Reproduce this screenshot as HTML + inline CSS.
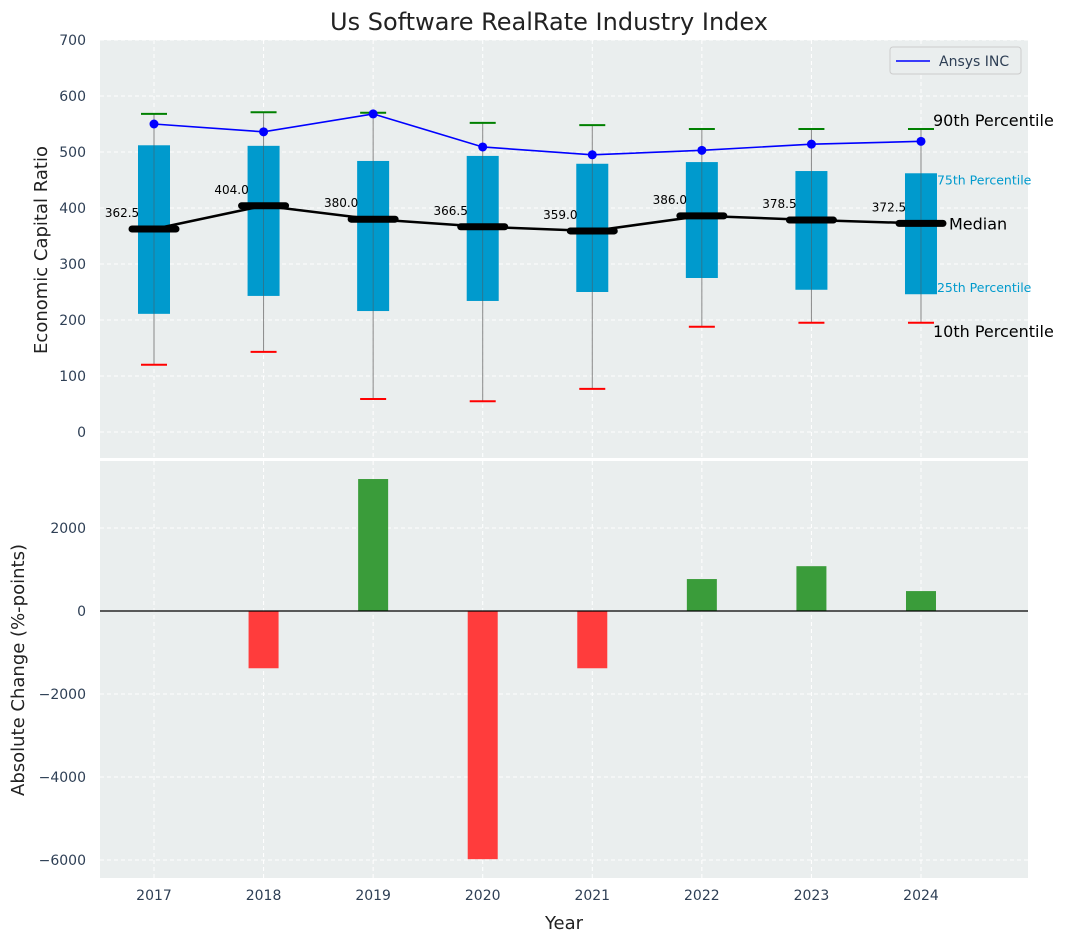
<!DOCTYPE html>
<html><head><meta charset="utf-8"><style>
body{margin:0;background:#fff;font-family:"Liberation Sans","DejaVu Sans",sans-serif;}
svg text{font-family:"DejaVu Sans","Liberation Sans",sans-serif;}
</style></head><body>
<svg id="c" width="1067" height="942"></svg>
<script>
const years=[2017,2018,2019,2020,2021,2022,2023,2024];
const p10=[120,143,59,55,77,188,195,195];
const q1=[211,243,216,234,250,275,254,246];
const medians=[362.5,404.0,380.0,366.5,359.0,386.0,378.5,372.5];
const q3=[512,511,484,493,479,482,466,462];
const p90=[568,571,570,552,548,541,541,541];
const ansys=[550,536,568,509,495,503,514,519];
const changes=[0,-1380,3180,-5980,-1380,770,1080,480];
const topTicks=[0,100,200,300,400,500,600,700];
const botTicks=[-6000,-4000,-2000,0,2000];

const NS="http://www.w3.org/2000/svg";
const svg=document.getElementById('c');
function mk(t,a,parent){const e=document.createElementNS(NS,t);for(const k in a)e.setAttribute(k,a[k]);(parent||svg).appendChild(e);return e;}
const X0=100,X1=1028;
const xs=y=>154+(y-2017)*109.57;
const yT=v=>432-v*0.56;
const yB=v=>611-v*0.0415;

let e;
e=mk('rect',{x:X0,y:40,width:X1-X0,height:418,fill:'#eaeeee'});

e=mk('rect',{x:X0,y:461,width:X1-X0,height:417,fill:'#eaeeee'});


years.forEach(y=>{mk('line',{x1:xs(y),x2:xs(y),y1:40,y2:458,stroke:'#fff','stroke-dasharray':'4,3'});mk('line',{x1:xs(y),x2:xs(y),y1:461,y2:878,stroke:'#fff','stroke-dasharray':'4,3'});});
topTicks.forEach(t=>{mk('line',{x1:X0,x2:X1,y1:yT(t),y2:yT(t),stroke:'#fff','stroke-dasharray':'4,3'});
 e=mk('text',{x:86,y:yT(t)+5,'text-anchor':'end','font-size':14,fill:'#2e3f55'});e.textContent=t;
 });
botTicks.forEach(t=>{mk('line',{x1:X0,x2:X1,y1:yB(t),y2:yB(t),stroke:'#fff','stroke-dasharray':'4,3'});
 e=mk('text',{x:86,y:yB(t)+5,'text-anchor':'end','font-size':14,fill:'#2e3f55'});e.textContent=t<0?'\u2212'+(-t):t;
 });

years.forEach((y,i)=>{const x=xs(y);
 e=mk('line',{x1:x,x2:x,y1:yT(p90[i]),y2:yT(p10[i]),stroke:'#888','stroke-width':1});
 
 e=mk('rect',{x:x-16,y:yT(q3[i]),width:32,height:yT(q1[i])-yT(q3[i]),fill:'#009acd'});
 
 mk('line',{x1:x,x2:x,y1:yT(q3[i]),y2:yT(q1[i]),stroke:'#555','stroke-width':0.8,opacity:0.6});
 e=mk('line',{x1:x-13,x2:x+13,y1:yT(p90[i]),y2:yT(p90[i]),stroke:'green','stroke-width':2});
 
 e=mk('line',{x1:x-13,x2:x+13,y1:yT(p10[i]),y2:yT(p10[i]),stroke:'red','stroke-width':2});
 
});
e=mk('polyline',{points:years.map((y,i)=>xs(y)+','+yT(medians[i])).join(' '),fill:'none',stroke:'#000','stroke-width':2.5});

years.forEach((y,i)=>{const x=xs(y);
 e=mk('line',{x1:x-22,x2:x+22,y1:yT(medians[i]),y2:yT(medians[i]),stroke:'#000','stroke-width':7,'stroke-linecap':'round'});
 
 e=mk('text',{x:x-32,y:yT(medians[i])-12,'text-anchor':'middle','font-size':12,fill:'#000'});e.textContent=medians[i].toFixed(1);
 
});
e=mk('polyline',{points:years.map((y,i)=>xs(y)+','+yT(ansys[i])).join(' '),fill:'none',stroke:'#0000ff','stroke-width':1.6});

years.forEach((y,i)=>{e=mk('circle',{cx:xs(y),cy:yT(ansys[i]),r:4.5,fill:'#0000ff'});
 });

const lx=xs(2024)+12;
[['90th Percentile',yT(p90[7])-3,16,'#000'],['75th Percentile',yT(q3[7])+11,12.5,'#009acd'],['Median',yT(medians[7])+6,16,'#000'],['25th Percentile',yT(q1[7])-2,12.5,'#009acd'],['10th Percentile',yT(p10[7])+14,16,'#000']].forEach(a=>{
 e=mk('text',{x:a[0]=='Median'?lx+16:(a[2]<13?lx+4:lx),y:a[1],'font-size':a[2],fill:a[3]});e.textContent=a[0];
 });

e=mk('rect',{x:890,y:47,width:131,height:27,fill:'#eaeeee',stroke:'#ccc',rx:3});

mk('line',{x1:896,x2:930,y1:61,y2:61,stroke:'#0000ff','stroke-width':1.6});
e=mk('text',{x:939,y:66,'font-size':14,fill:'#2e3f55'});e.textContent='Ansys INC';


years.forEach((y,i)=>{const v=changes[i];if(!v)return;
 e=mk('rect',{x:xs(y)-15,y:Math.min(yB(v),yB(0)),width:30,height:Math.abs(yB(v)-yB(0)),fill:v>0?'#3a9c3a':'#ff3c3c'});
 });
mk('line',{x1:X0,x2:X1,y1:yB(0),y2:yB(0),stroke:'#000','stroke-width':1.2});

years.forEach(y=>{e=mk('text',{x:xs(y),y:900,'text-anchor':'middle','font-size':14,fill:'#2e3f55'});e.textContent=y;
 });

e=mk('text',{x:549,y:30,'text-anchor':'middle','font-size':24,fill:'#222'});e.textContent='Us Software RealRate Industry Index';

e=mk('text',{x:564,y:929,'text-anchor':'middle','font-size':18,fill:'#222'});e.textContent='Year';

e=mk('text',{x:47,y:250,'text-anchor':'middle','font-size':18,fill:'#222',transform:'rotate(-90 47 250)'});e.textContent='Economic Capital Ratio';

e=mk('text',{x:24,y:670,'text-anchor':'middle','font-size':18,fill:'#222',transform:'rotate(-90 24 670)'});e.textContent='Absolute Change (%-points)';

</script>
</body></html>
